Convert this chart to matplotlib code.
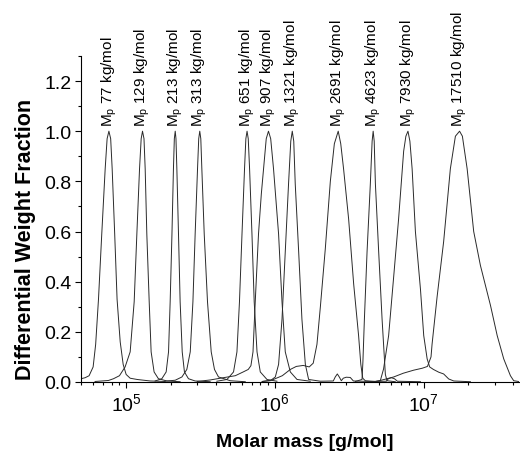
import numpy as np
import matplotlib
matplotlib.use("Agg")
import matplotlib.pyplot as plt

plt.rcParams['font.family'] = ['Liberation Sans', 'DejaVu Sans']
plt.rcParams['mathtext.fontset'] = 'custom'
plt.rcParams['mathtext.rm'] = 'Liberation Sans'
plt.rcParams['mathtext.it'] = 'Liberation Sans:italic'
plt.rcParams['mathtext.bf'] = 'Liberation Sans:bold'

# peak molar masses (kg/mol) used for the labels
mp_kg = [77, 129, 213, 313, 651, 907, 1321, 2691, 4623, 7930, 17510]

# curves: log10(M / g/mol) and differential weight fraction
lg_77 = [4.697, 4.724, 4.751, 4.778, 4.795, 4.814, 4.836, 4.859, 4.872, 4.884, 4.896, 4.906,
         4.923, 4.939, 4.960, 4.980, 5.000, 5.027, 5.074, 5.162, 5.262]
w_77 = [0.013, 0.017, 0.025, 0.06, 0.15, 0.33, 0.59, 0.85, 0.97, 1.0, 0.97, 0.85,
        0.59, 0.33, 0.16, 0.07, 0.03, 0.015, 0.01, 0.004, 0.002]

lg_129 = [4.791, 4.881, 4.915, 4.955, 4.993, 5.027, 5.054, 5.072, 5.090, 5.101, 5.110, 5.120,
          5.128, 5.139, 5.155, 5.168, 5.188, 5.217, 5.274, 5.363]
w_129 = [0.002, 0.006, 0.013, 0.025, 0.06, 0.12, 0.32, 0.59, 0.85, 0.97, 1.0, 0.97,
         0.85, 0.59, 0.32, 0.12, 0.04, 0.013, 0.004, 0.001]

lg_213 = [5.195, 5.240, 5.269, 5.285, 5.296, 5.308, 5.318, 5.324, 5.330, 5.335, 5.341, 5.352,
          5.363, 5.377, 5.392, 5.419, 5.464, 5.565]
w_213 = [0.004, 0.013, 0.04, 0.12, 0.32, 0.59, 0.85, 0.97, 1.0, 0.97, 0.85, 0.59,
         0.32, 0.12, 0.04, 0.013, 0.004, 0.001]

lg_313 = [5.262, 5.330, 5.375, 5.408, 5.431, 5.449, 5.464, 5.480, 5.488, 5.495, 5.502, 5.509,
          5.525, 5.547, 5.572, 5.594, 5.621, 5.700, 5.801]
w_313 = [0.003, 0.007, 0.02, 0.05, 0.12, 0.32, 0.59, 0.85, 0.97, 1.0, 0.97, 0.85,
         0.59, 0.32, 0.12, 0.05, 0.02, 0.005, 0.001]

lg_651 = [5.610, 5.678, 5.722, 5.745, 5.762, 5.779, 5.796, 5.805, 5.813, 5.821, 5.830, 5.846,
          5.861, 5.880, 5.902, 5.947, 6.014]
w_651 = [0.003, 0.01, 0.04, 0.12, 0.32, 0.59, 0.85, 0.97, 1.0, 0.97, 0.85, 0.59,
         0.32, 0.12, 0.04, 0.01, 0.003]

lg_907 = [5.478, 5.565, 5.633, 5.734, 5.787, 5.821, 5.839, 5.853, 5.868, 5.890, 5.909, 5.924,
          5.942, 5.957, 5.972, 5.991, 6.025, 6.048, 6.070, 6.104, 6.149, 6.238]
w_907 = [0.002, 0.008, 0.015, 0.025, 0.04, 0.05, 0.065, 0.12, 0.32, 0.59, 0.75, 0.85,
         0.97, 1.0, 0.97, 0.85, 0.59, 0.32, 0.12, 0.04, 0.01, 0.003]

lg_1321 = [5.915, 5.969, 6.003, 6.025, 6.048, 6.070, 6.092, 6.107, 6.117, 6.127, 6.137, 6.160,
           6.182, 6.205, 6.227, 6.306, 6.393, 6.406, 6.420, 6.433, 6.447, 6.460, 6.480, 6.507,
           6.528, 6.642, 6.750, 6.763, 6.783, 6.804, 6.824, 6.979]
w_1321 = [0.002, 0.005, 0.02, 0.07, 0.25, 0.52, 0.79, 0.96, 1.0, 0.96, 0.79, 0.52,
          0.25, 0.07, 0.01, 0.003, 0.004, 0.02, 0.032, 0.02, 0.005, 0.015, 0.019, 0.018,
          0.004, 0.002, 0.003, 0.013, 0.017, 0.013, 0.003, 0.001]

lg_2691 = [5.915, 5.982, 6.050, 6.104, 6.144, 6.191, 6.231, 6.258, 6.283, 6.306, 6.339, 6.373,
           6.400, 6.426, 6.443, 6.462, 6.496, 6.530, 6.563, 6.578, 6.591, 6.608, 6.676]
w_2691 = [0.002, 0.008, 0.025, 0.05, 0.062, 0.066, 0.06, 0.075, 0.15, 0.3, 0.53, 0.8,
          0.95, 1.0, 0.95, 0.85, 0.65, 0.39, 0.185, 0.07, 0.015, 0.005, 0.002]

lg_4623 = [6.541, 6.586, 6.592, 6.602, 6.620, 6.642, 6.654, 6.661, 6.668, 6.676, 6.698, 6.721,
           6.743, 6.754, 6.810]
w_4623 = [0.002, 0.01, 0.08, 0.25, 0.52, 0.79, 0.96, 1.0, 0.96, 0.79, 0.52, 0.25,
          0.03, 0.005, 0.001]

lg_7930 = [6.676, 6.709, 6.731, 6.765, 6.799, 6.832, 6.866, 6.881, 6.895, 6.908, 6.923, 6.945,
           6.979, 7.001, 7.024, 7.041, 7.066, 7.102, 7.135, 7.169, 7.203, 7.315]
w_7930 = [0.002, 0.005, 0.052, 0.185, 0.42, 0.65, 0.92, 0.98, 1.0, 0.96, 0.85, 0.6,
          0.37, 0.185, 0.092, 0.06, 0.05, 0.039, 0.032, 0.012, 0.004, 0.001]

lg_17510 = [6.676, 6.709, 6.799, 6.864, 6.933, 6.992, 7.026, 7.050, 7.057, 7.091, 7.135, 7.180,
            7.214, 7.242, 7.261, 7.293, 7.337, 7.382, 7.450, 7.495, 7.539, 7.584, 7.606, 7.638]
w_17510 = [0.002, 0.006, 0.02, 0.035, 0.047, 0.055, 0.062, 0.1, 0.15, 0.34, 0.56, 0.85,
           0.98, 1.0, 0.98, 0.85, 0.6, 0.465, 0.305, 0.185, 0.092, 0.025, 0.005, 0.002]

curves = [(lg_77, w_77), (lg_129, w_129), (lg_213, w_213), (lg_313, w_313), (lg_651, w_651),
          (lg_907, w_907), (lg_1321, w_1321), (lg_2691, w_2691), (lg_4623, w_4623),
          (lg_7930, w_7930), (lg_17510, w_17510)]

fig = plt.figure(figsize=(5.2, 4.52), dpi=100)
ax = fig.add_axes([0.156, 0.1527, 0.844, 0.7213])

for lg, w in curves:
    ax.plot(10 ** np.array(lg), w, color="#2a2a2a", lw=0.7)

# rotated peak labels just above each peak
for mp in mp_kg:
    ax.text(mp * 1000, 1.02, r"M$_{\rm p}$ " + str(mp) + " kg/mol", rotation=90,
            ha="center", va="bottom", fontsize=11, clip_on=False)

ax.set_xscale("log")
ax.set_xlim(4.98e4, 4.45e7)
ax.set_ylim(0, 1.3)
ax.set_yticks(np.arange(0, 1.21, 0.2))
ax.set_yticks(np.arange(0.1, 1.31, 0.2), minor=True)
ax.yaxis.set_major_formatter(matplotlib.ticker.FormatStrFormatter("%.1f"))
ax.spines["top"].set_visible(False)
ax.spines["right"].set_visible(False)
ax.tick_params(which="major", direction="out", length=4, width=0.8, labelsize=14, pad=3)
ax.tick_params(which="minor", direction="out", length=2.5, width=0.8)
ax.set_xlabel("Molar mass [g/mol]", fontsize=14, fontweight="bold", labelpad=14)
ax.xaxis.label.set_x(0.509)
ax.set_ylabel("Differential Weight Fraction", fontsize=15.5, fontweight="bold", labelpad=6)
ax.yaxis.label.set_y(0.44)

fig.savefig("out.png", dpi=100)
